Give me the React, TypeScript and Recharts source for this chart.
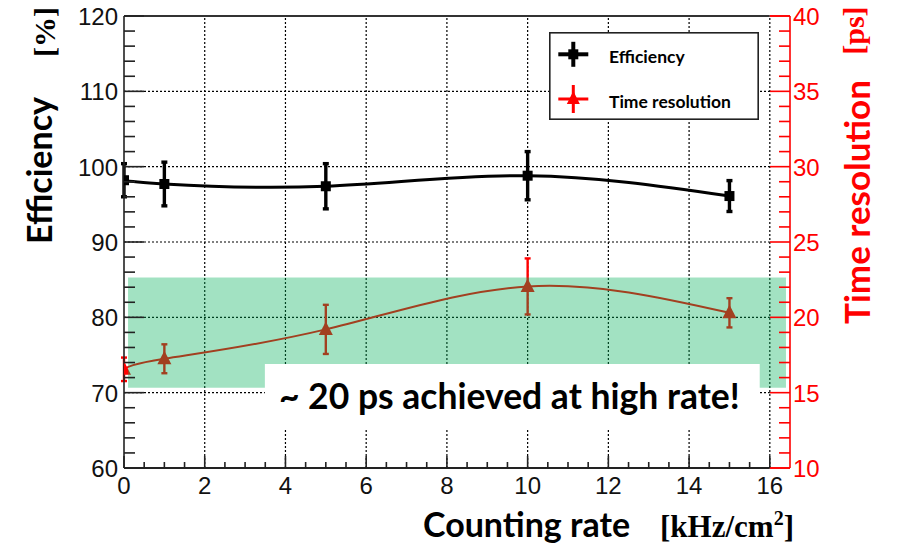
import React from 'react';
import {
  ComposedChart,
  Line,
  XAxis,
  YAxis,
  ErrorBar,
  ReferenceLine,
  ReferenceArea,
  Legend,
  Label,
} from 'recharts';

// ---------- data ----------
const rates = [0, 1, 5, 10, 15];
const efficiency = [98.2, 97.7, 97.4, 98.8, 96.1];
const efficiencyErr = [2.2, 2.9, 3.0, 3.2, 2.05];
const timeResolution = [16.55, 17.25, 19.2, 22.05, 20.3];
const timeResolutionErr = [0.78, 0.96, 1.63, 1.86, 0.97];

// ---------- ticks ----------
const xTicks = [0, 0.5, 1, 1.5, 2, 2.5, 3, 3.5, 4, 4.5, 5, 5.5, 6, 6.5, 7, 7.5, 8, 8.5, 9, 9.5, 10, 10.5, 11, 11.5, 12, 12.5, 13, 13.5, 14, 14.5, 15, 15.5, 16];
const xMajor = [0, 2, 4, 6, 8, 10, 12, 14, 16];
const xGrid = [2, 4, 6, 8, 10, 12, 14, 16];
const leftTicks = [60, 62, 64, 66, 68, 70, 72, 74, 76, 78, 80, 82, 84, 86, 88, 90, 92, 94, 96, 98, 100, 102, 104, 106, 108, 110, 112, 114, 116, 118, 120];
const leftMajor = [60, 70, 80, 90, 100, 110, 120];
const yGrid = [70, 80, 90, 100, 110];
const rightTicks = [10, 11, 12, 13, 14, 15, 16, 17, 18, 19, 20, 21, 22, 23, 24, 25, 26, 27, 28, 29, 30, 31, 32, 33, 34, 35, 36, 37, 38, 39, 40];
const rightMajor = [10, 15, 20, 25, 30, 35, 40];

// ---------- annotation regions (data coordinates) ----------
const bandX = [0.1, 16.4];
const bandY = [70.65, 85.3];
const noteX = [3.49, 15.75];
const noteY = [65.2, 73.8];
const noteText = '~ 20 ps achieved at high rate!';

const X_DOMAIN = [0, 16.5];
const LEFT_DOMAIN = [60, 120];
const RIGHT_DOMAIN = [10, 40];

const data = rates.map((r, i) => ({
  rate: r,
  eff: efficiency[i],
  effErr: efficiencyErr[i],
  time: timeResolution[i],
  timeErr: timeResolutionErr[i],
}));

const SANS = 'Lato, "Open Sans", sans-serif';
const ARIAL = '"Liberation Sans", Arial, sans-serif';
const SERIF = '"Liberation Serif", "Times New Roman", serif';
const RED = '#ff0000';
const AXIS_BLACK = '#222';

const LeftTick = (props: any) => {
  const { x, y, payload } = props;
  const v = payload.value;
  const major = leftMajor.includes(v);
  return (
    <g>
      <line x1={x} x2={x + (major ? 20 : 11)} y1={y} y2={y} stroke={AXIS_BLACK} strokeWidth={1.6} />
      {major && (
        <text x={x - 6} y={y + 9} textAnchor="end" fontFamily={ARIAL} fontSize={24} fill="#111">
          {v}
        </text>
      )}
    </g>
  );
};

const RightTick = (props: any) => {
  const { x, y, payload } = props;
  const v = payload.value;
  const major = rightMajor.includes(v);
  return (
    <g>
      <line x1={x} x2={x - (major ? 20 : 11)} y1={y} y2={y} stroke={RED} strokeWidth={1.6} />
      {major && (
        <text x={x + 3} y={y + 9} textAnchor="start" fontFamily={ARIAL} fontSize={24} fill={RED}>
          {v}
        </text>
      )}
    </g>
  );
};

const BottomTick = (props: any) => {
  const { x, y, payload } = props;
  const v = payload.value;
  const major = xMajor.includes(v);
  return (
    <g>
      <line x1={x} x2={x} y1={y} y2={y - (major ? 12 : 6)} stroke={AXIS_BLACK} strokeWidth={1.6} />
      {major && (
        <text x={x} y={y + 26} textAnchor="middle" fontFamily={ARIAL} fontSize={24} fill="#111">
          {v}
        </text>
      )}
    </g>
  );
};

const LeftTitle = (props: any) => {
  const vb = props.viewBox || { x: 0, y: 16, width: 124, height: 452 };
  const bx = vb.x + 51.5;
  const by = vb.y + 154.5;
  const ux = vb.x + 54.5;
  const uy = vb.y + 16;
  return (
    <g>
      <text transform={`translate(${bx},${by}) rotate(-90)`} textAnchor="middle" fontFamily={SANS} fontWeight={700} fontSize={34} fill="#000">
        Efficiency
      </text>
      <text transform={`translate(${ux},${uy}) rotate(-90)`} textAnchor="middle" fontFamily={SERIF} fontWeight={700} fontSize={30} fill="#000">
        [%]
      </text>
    </g>
  );
};

const RightTitle = (props: any) => {
  const vb = props.viewBox || { x: 790, y: 16, width: 107, height: 452 };
  const bx = vb.x + 80;
  const by = vb.y + 186;
  const ux = vb.x + 74;
  const uy = vb.y + 14.6;
  return (
    <g>
      <text transform={`translate(${bx},${by}) rotate(-90)`} textAnchor="middle" fontFamily={SANS} fontWeight={700} fontSize={35} fill={RED}>
        Time resolution
      </text>
      <text transform={`translate(${ux},${uy}) rotate(-90)`} textAnchor="middle" fontFamily={SERIF} fontWeight={700} fontSize={30} fill={RED}>
        [ps]
      </text>
    </g>
  );
};

const BottomTitle = (props: any) => {
  const vb = props.viewBox || { x: 124, y: 468, width: 666, height: 78 };
  return (
    <g>
      <text x={vb.x + 299} y={vb.y + 69} textAnchor="start" fontFamily={SANS} fontWeight={700} fontSize={34} fill="#000">
        Counting rate
      </text>
      <text x={vb.x + 536} y={vb.y + 69} textAnchor="start" fontFamily={SERIF} fontWeight={700} fontSize={31} fill="#000">
        [kHz/cm
        <tspan fontSize={20} dy={-12}>2</tspan>
        <tspan dy={12}>]</tspan>
      </text>
    </g>
  );
};

const NoteLabel = (props: any) => {
  const vb = props.viewBox || { x: 0, y: 0, width: 0, height: 0 };
  return (
    <text x={vb.x + vb.width / 2 - 3} y={vb.y + 45} textAnchor="middle" fontFamily={SANS} fontWeight={700} fontSize={35.5} fill="#000">
      {noteText}
    </text>
  );
};

const SquareDot = (p: any) => {
  if (p.cx == null || p.cy == null) return <g key={`sq-${p.index}`} />;
  return <rect key={`sq-${p.index}`} x={p.cx - 5} y={p.cy - 5} width={10} height={10} fill="#000" />;
};

const TriangleDot = (p: any) => {
  if (p.cx == null || p.cy == null) return <g key={`tr-${p.index}`} />;
  const { cx, cy } = p;
  return (
    <polygon
      key={`tr-${p.index}`}
      points={`${cx},${cy - 8} ${cx - 7},${cy + 5.5} ${cx + 7},${cy + 5.5}`}
      fill={RED}
    />
  );
};

const LegendContent = (props: any) => {
  const payload = props.payload || [];
  const rowY = [22.3, 67];
  return (
    <svg width={210} height={88} style={{ display: 'block' }}>
      <rect x={0.8} y={0.8} width={208.4} height={86.4} fill="#fff" stroke="#222" strokeWidth={1.6} />
      {payload.map((entry: any, i: number) => {
        const cy = rowY[i] ?? 22 + i * 45;
        const cx = 24.3;
        const isEff = entry.dataKey === 'eff';
        const color = isEff ? '#000' : RED;
        return (
          <g key={`leg-${i}`}>
            <line x1={cx - 15} x2={cx + 15} y1={cy} y2={cy} stroke={color} strokeWidth={isEff ? 4 : 3} />
            <line x1={cx} x2={cx} y1={cy - (isEff ? 12.5 : 14)} y2={cy + (isEff ? 12.5 : 14)} stroke={color} strokeWidth={isEff ? 4 : 3} />
            {isEff ? (
              <rect x={cx - 5} y={cy - 5} width={10} height={10} fill={color} />
            ) : (
              <polygon points={`${cx},${cy - 8} ${cx - 6.5},${cy + 5} ${cx + 6.5},${cy + 5}`} fill={color} />
            )}
            <text x={60} y={cy + 9} fontFamily={SANS} fontWeight={700} fontSize={17.5} fill="#000">
              {entry.value}
            </text>
          </g>
        );
      })}
    </svg>
  );
};

export default function App() {
  return (
    <div style={{ position: 'absolute', left: 0, top: 0, width: 897, height: 546, background: '#fff' }}>
      <ComposedChart
        width={897}
        height={546}
        data={data}
        margin={{ top: 16, right: 0, bottom: 0, left: 0 }}
      >
        <XAxis
          dataKey="rate"
          type="number"
          domain={X_DOMAIN}
          ticks={xTicks}
          interval={0}
          height={78}
          tickSize={0}
          tickMargin={0}
          tickLine={false}
          axisLine={false}
          tick={<BottomTick />}
          allowDataOverflow
        >
          <Label content={<BottomTitle />} />
        </XAxis>
        <YAxis
          yAxisId="left"
          orientation="left"
          type="number"
          domain={LEFT_DOMAIN}
          ticks={leftTicks}
          interval={0}
          width={124}
          tickSize={0}
          tickMargin={0}
          tickLine={false}
          axisLine={{ stroke: AXIS_BLACK, strokeWidth: 1.6 }}
          tick={<LeftTick />}
          allowDataOverflow
        >
          <Label content={<LeftTitle />} />
        </YAxis>
        <YAxis
          yAxisId="right"
          orientation="right"
          type="number"
          domain={RIGHT_DOMAIN}
          ticks={rightTicks}
          interval={0}
          width={107}
          tickSize={0}
          tickMargin={0}
          tickLine={false}
          axisLine={{ stroke: RED, strokeWidth: 1.6 }}
          tick={<RightTick />}
          allowDataOverflow
        >
          <Label content={<RightTitle />} />
        </YAxis>

        {/* dotted grid */}
        {xGrid.map((v) => (
          <ReferenceLine key={`gx-${v}`} yAxisId="left" x={v} stroke="#000" strokeWidth={1.2} strokeDasharray="2 2" ifOverflow="visible" />
        ))}
        {yGrid.map((v) => (
          <ReferenceLine
            key={`gy-${v}`}
            yAxisId="left"
            segment={[{ x: 0, y: v }, { x: 16, y: v }]}
            stroke="#000"
            strokeWidth={1.2}
            strokeDasharray="2 2"
            ifOverflow="visible"
          />
        ))}

        {/* frame */}
        <ReferenceLine yAxisId="left" segment={[{ x: 0, y: 120 }, { x: 16, y: 120 }]} stroke="#333" strokeWidth={1.8} ifOverflow="visible" />
        <ReferenceLine yAxisId="left" segment={[{ x: 0, y: 60 }, { x: 16, y: 60 }]} stroke={AXIS_BLACK} strokeWidth={1.8} ifOverflow="visible" />
        <ReferenceLine yAxisId="left" segment={[{ x: 16, y: 120 }, { x: 16.5, y: 120 }]} stroke={RED} strokeWidth={1.6} ifOverflow="visible" />
        <ReferenceLine yAxisId="left" segment={[{ x: 16, y: 60 }, { x: 16.5, y: 60 }]} stroke={RED} strokeWidth={1.6} ifOverflow="visible" />

        <Line
          yAxisId="left"
          dataKey="eff"
          name="Efficiency"
          type="natural"
          stroke="#000"
          strokeWidth={3}
          dot={SquareDot}
          activeDot={false}
          isAnimationActive={false}
        >
          <ErrorBar dataKey="effErr" direction="y" width={3} strokeWidth={3.4} stroke="#000" isAnimationActive={false} />
        </Line>
        <Line
          yAxisId="right"
          dataKey="time"
          name="Time resolution"
          type="natural"
          stroke={RED}
          strokeWidth={2}
          dot={TriangleDot}
          activeDot={false}
          isAnimationActive={false}
        >
          <ErrorBar dataKey="timeErr" direction="y" width={3} strokeWidth={2.4} stroke={RED} isAnimationActive={false} />
        </Line>

        {/* translucent green highlight band */}
        <ReferenceArea
          yAxisId="left"
          x1={bandX[0]}
          x2={bandX[1]}
          y1={bandY[0]}
          y2={bandY[1]}
          fill="rgb(0,176,88)"
          fillOpacity={0.365}
          stroke="none"
          ifOverflow="visible"
          zIndex={1500}
        />
        {/* white note box */}
        <ReferenceArea
          yAxisId="left"
          x1={noteX[0]}
          x2={noteX[1]}
          y1={noteY[0]}
          y2={noteY[1]}
          fill="#fff"
          fillOpacity={1}
          stroke="none"
          ifOverflow="visible"
          zIndex={1600}
        >
          <Label content={<NoteLabel />} />
        </ReferenceArea>

        <Legend
          layout="vertical"
          align="center"
          verticalAlign="middle"
          wrapperStyle={{ left: 549, top: 32, width: 210, height: 88 }}
          content={<LegendContent />}
        />
      </ComposedChart>
    </div>
  );
}
